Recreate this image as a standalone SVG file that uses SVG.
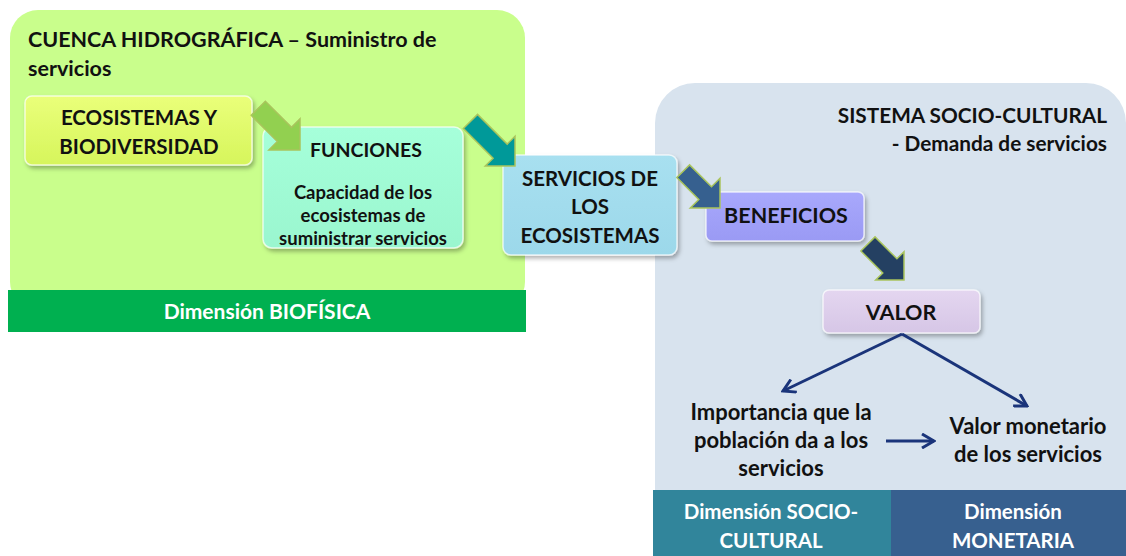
<svg xmlns="http://www.w3.org/2000/svg" width="1126" height="556" viewBox="0 0 1126 556">
<defs>
<style>
.t{font-family:Lato,"Liberation Sans",sans-serif;font-weight:bold;fill:#111}
.w{font-family:Lato,"Liberation Sans",sans-serif;font-weight:bold;fill:#fff}
.box{stroke:#ffffff;stroke-opacity:0.7;stroke-width:1.5;filter:url(#sh)}
.ba{stroke:#A9C45C;stroke-width:1.5;stroke-linejoin:miter}
.ln{stroke:#1A347A;stroke-width:3;fill:none;marker-end:url(#chev)}
</style>
<filter id="sh" x="-10%" y="-10%" width="125%" height="130%">
<feDropShadow dx="2" dy="3" stdDeviation="2" flood-color="#000" flood-opacity="0.3"/>
</filter>
<marker id="chev" markerUnits="userSpaceOnUse" markerWidth="16" markerHeight="16" viewBox="0 0 16 16" refX="14" refY="8" orient="auto">
<path d="M2,1 L14,8 L2,15" fill="none" stroke="#1A347A" stroke-width="3"/>
</marker>
<linearGradient id="gEco" x1="0" y1="0" x2="0" y2="1"><stop offset="0" stop-color="#EAFF7A"/><stop offset="1" stop-color="#D6F55C"/></linearGradient>
<linearGradient id="gFun" x1="0" y1="0" x2="0" y2="1"><stop offset="0" stop-color="#A6FFDA"/><stop offset="1" stop-color="#9AF6CF"/></linearGradient>
<linearGradient id="gSer" x1="0" y1="0" x2="0" y2="1"><stop offset="0" stop-color="#A8E0F0"/><stop offset="1" stop-color="#9CD8EA"/></linearGradient>
<linearGradient id="gBen" x1="0" y1="0" x2="0" y2="1"><stop offset="0" stop-color="#A8A8FC"/><stop offset="1" stop-color="#9A9AF4"/></linearGradient>
<linearGradient id="gVal" x1="0" y1="0" x2="0" y2="1"><stop offset="0" stop-color="#E4D6F0"/><stop offset="1" stop-color="#D6C6E6"/></linearGradient>
</defs>
<rect width="1126" height="556" fill="#fff"/>

<g id="panel-biofisico">
<rect x="10" y="10" width="515" height="300" rx="28" fill="#C9FE8C"/>
<rect x="8" y="290" width="518" height="42" fill="#00B050"/>
<text class="t" x="28" y="47" font-size="21.5">CUENCA HIDROGRÁFICA – Suministro de</text>
<text class="t" x="28" y="76" font-size="21.5">servicios</text>
<text class="w" x="267" y="319" font-size="21" text-anchor="middle">Dimensión BIOFÍSICA</text>
</g>

<g id="panel-sociocultural">
<rect x="655" y="83" width="471" height="473" rx="40" fill="#D8E3EE"/>
<rect x="653" y="490" width="238" height="66" fill="#31859B"/>
<rect x="891" y="490" width="235" height="66" fill="#37608F"/>
<text class="t" x="1107" y="123" font-size="20.8" text-anchor="end">SISTEMA SOCIO-CULTURAL</text>
<text class="t" x="1107" y="151" font-size="20.8" text-anchor="end">- Demanda de servicios</text>
<text class="w" x="771" y="519" font-size="20.5" text-anchor="middle">Dimensión SOCIO-</text>
<text class="w" x="771" y="548" font-size="20.5" text-anchor="middle">CULTURAL</text>
<text class="w" x="1013" y="519" font-size="20.5" text-anchor="middle">Dimensión</text>
<text class="w" x="1013" y="548" font-size="20.5" text-anchor="middle">MONETARIA</text>
</g>

<g id="ecosistemas">
<rect class="box" x="25" y="96" width="227" height="69" rx="7" fill="url(#gEco)"/>
<text class="t" x="139" y="125" font-size="20.5" text-anchor="middle">ECOSISTEMAS Y</text>
<text class="t" x="139" y="154" font-size="20.5" text-anchor="middle">BIODIVERSIDAD</text>
</g>

<g id="funciones">
<rect class="box" x="263" y="127" width="200" height="121" rx="9" fill="url(#gFun)"/>
<text class="t" x="366" y="157" font-size="19.5" text-anchor="middle">FUNCIONES</text>
<text class="t" x="363" y="199" font-size="18.5" text-anchor="middle">Capacidad de los</text>
<text class="t" x="363" y="222" font-size="18.5" text-anchor="middle">ecosistemas de</text>
<text class="t" x="363" y="245" font-size="18.5" text-anchor="middle">suministrar servicios</text>
</g>

<g id="servicios">
<rect class="box" x="503" y="155" width="174" height="100" rx="8" fill="url(#gSer)"/>
<text class="t" x="590" y="186" font-size="20.5" text-anchor="middle">SERVICIOS DE</text>
<text class="t" x="590" y="214" font-size="20.5" text-anchor="middle">LOS</text>
<text class="t" x="590" y="243" font-size="20.5" text-anchor="middle">ECOSISTEMAS</text>
</g>

<g id="beneficios">
<rect class="box" x="706" y="192" width="158" height="49" rx="6" fill="url(#gBen)"/>
<text class="t" x="786" y="223" font-size="21.5" text-anchor="middle">BENEFICIOS</text>
</g>

<g id="valor">
<rect class="box" x="823" y="290" width="157" height="43" rx="6" fill="url(#gVal)"/>
<text class="t" x="901" y="320" font-size="21.5" text-anchor="middle">VALOR</text>
</g>

<g id="importancia">
<text class="t" x="781" y="420" font-size="22" text-anchor="middle">Importancia que la</text>
<text class="t" x="781" y="448" font-size="22" text-anchor="middle">población da a los</text>
<text class="t" x="781" y="476" font-size="22" text-anchor="middle">servicios</text>
</g>

<g id="valor-monetario">
<text class="t" x="1028" y="434" font-size="22" text-anchor="middle">Valor monetario</text>
<text class="t" x="1028" y="462" font-size="22" text-anchor="middle">de los servicios</text>
</g>

<g id="connectors">
<path class="ba" fill="#92D050" transform="translate(300,150) rotate(45)" d="M0,0 L-22,-22 L-22,-10 L-59,-10 L-59,10 L-22,10 L-22,22 Z"/>
<path class="ba" fill="#009999" transform="translate(515,166) rotate(45)" d="M0,0 L-21,-21 L-21,-10 L-63,-10 L-63,10 L-21,10 L-21,21 Z"/>
<path class="ba" fill="#36608F" transform="translate(720,208) rotate(45)" d="M0,0 L-21,-21 L-21,-9 L-52,-9 L-52,9 L-21,9 L-21,21 Z"/>
<path class="ba" fill="#244062" transform="translate(904,280) rotate(45)" d="M0,0 L-20,-20 L-20,-10 L-51,-10 L-51,10 L-20,10 L-20,20 Z"/>
<line class="ln" x1="902" y1="334" x2="783" y2="391"/>
<line class="ln" x1="902" y1="334" x2="1027" y2="406"/>
<line class="ln" x1="886" y1="441" x2="934" y2="441"/>
</g>
</svg>
